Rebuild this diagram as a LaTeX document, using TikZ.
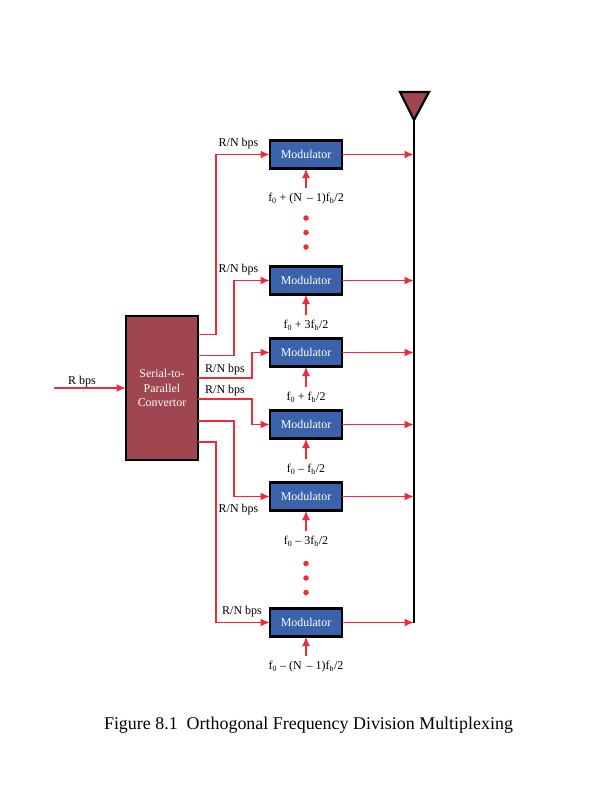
\documentclass[tikz,border=0pt]{standalone}
\usepackage{fontspec}
\setmainfont{Liberation Serif}
\usepackage{xcolor}
\usetikzlibrary{arrows.meta,positioning}
\definecolor{linkred}{HTML}{ED2B3B}
\definecolor{boxred}{HTML}{A04650}
\definecolor{boxblue}{HTML}{3B63AC}

\begin{document}
\begin{tikzpicture}[x=1bp, y=-1bp, node distance=72bp]
        \tikzset{modbox/.style={rectangle, draw=black, line width=2.2bp, fill=boxblue, text=white, minimum width=72bp, minimum height=28bp, inner sep=0pt, outer sep=0pt, font=\fontsize{12}{13}\selectfont}}
        \tikzset{serbox/.style={rectangle, draw=black, line width=2.2bp, fill=boxred, text=white, minimum width=72bp, minimum height=144bp, inner sep=0pt, outer sep=0pt, align=center, font=\fontsize{12}{14.7}\selectfont}}
        \tikzset{lbl/.style={inner sep=0pt, font=\fontsize{12}{13}\selectfont}}
        \tikzset{link/.style={draw=linkred, line width=1.7bp, -{Latex[length=9.5bp,width=8bp]}}}
        \tikzset{dot/.style={circle, fill=linkred, minimum size=5.5bp, inner sep=0pt}}

        \useasboundingbox (0,0) rectangle (612,792);

        \node [serbox] (ser) at (162,388) {Serial-to-\\Parallel\\Convertor};
        \node [modbox] (m1) at (306,154.5) {Modulator};
        \node [modbox, below of=m1, node distance=126bp] (m2) {Modulator};
        \node [modbox, below of=m2] (m3) {Modulator};
        \node [modbox, below of=m3] (m4) {Modulator};
        \node [modbox, below of=m4] (m5) {Modulator};
        \node [modbox, below of=m5, node distance=126bp] (m6) {Modulator};

        % antenna
        \coordinate (tip) at (414,120);
        \coordinate (mast) at (414,622.5);
        \draw [line width=2.2bp, fill=boxred, line join=miter] (400,92) -- (429,92) -- (tip) -- cycle;
        \draw [line width=2.2bp] (tip) -- (mast);

        % frequencies
        \node [lbl, below of=m1, node distance=44.5bp] (f1) {f\textsubscript{0} + (N \,– 1)f\textsubscript{b}/2};
        \node [lbl, below of=m2, node distance=44.5bp] (f2) {f\textsubscript{0} + 3f\textsubscript{b}/2};
        \node [lbl, below of=m3, node distance=44.5bp] (f3) {f\textsubscript{0} + f\textsubscript{b}/2};
        \node [lbl, below of=m4, node distance=44.5bp] (f4) {f\textsubscript{0} – f\textsubscript{b}/2};
        \node [lbl, below of=m5, node distance=44.5bp] (f5) {f\textsubscript{0} – 3f\textsubscript{b}/2};
        \node [lbl, below of=m6, node distance=44.5bp] (f6) {f\textsubscript{0} – (N \,– 1)f\textsubscript{b}/2};
        \foreach \i in {1,...,6} {
            \draw [link] ([yshift=5bp]f\i.north) -- (m\i.south);
            \draw [link] (m\i.east) -- (m\i.east -| mast);
        }

        % dots
        \node [dot] (d1) at (306,218) {};
        \node [dot] (d2) at (306,232.5) {};
        \node [dot] (d3) at (306,247) {};
        \node [dot] (d4) at (306,563.5) {};
        \node [dot] (d5) at (306,578) {};
        \node [dot] (d6) at (306,592.5) {};

        % serial side
        \coordinate (in) at (54,388);
        \coordinate (s1) at (198,334.5);
        \coordinate (s2) at (198,355.5);
        \coordinate (s3) at (198,378);
        \coordinate (s4) at (198,399);
        \coordinate (s5) at (198,421);
        \coordinate (s6) at (198,442);
        \draw [link] (in) -- (ser.west);
        \draw [link] (s1) -- ++(18,0) |- (m1.west);
        \draw [link] (s2) -- ++(36,0) |- (m2.west);
        \draw [link] (s3) -- ++(54,0) |- (m3.west);
        \draw [link] (s4) -- ++(54,0) |- (m4.west);
        \draw [link] (s5) -- ++(36,0) |- (m5.west);
        \draw [link] (s6) -- ++(18,0) |- (m6.west);

        \node [lbl] (r0) at (82,382) {R bps};
        \node [lbl] (r1) at (238.5,143.5) {R/N bps};
        \node [lbl] (r2) at (238.5,269.5) {R/N bps};
        \node [lbl] (r3) at (225,370) {R/N bps};
        \node [lbl] (r4) at (225,391) {R/N bps};
        \node [lbl] (r5) at (238.5,510) {R/N bps};
        \node [lbl] (r6) at (242,612) {R/N bps};

        \node [inner sep=0pt, font=\fontsize{18}{20}\selectfont] (cap) at (308.5,725) {Figure 8.1\ \ Orthogonal Frequency Division Multiplexing};
    \end{tikzpicture}
\end{document}
